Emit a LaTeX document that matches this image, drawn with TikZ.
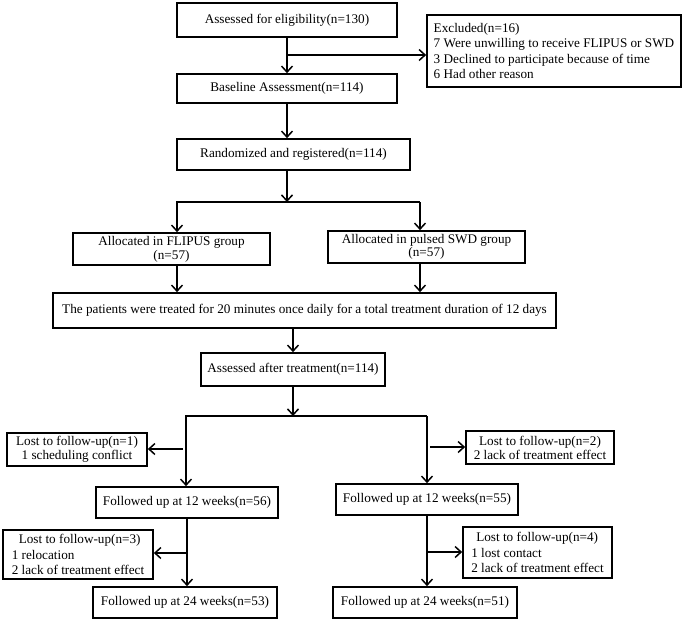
\documentclass[tikz,border=0pt]{standalone}
\usepackage{fontspec}
\setmainfont{Liberation Serif}
\usetikzlibrary{arrows.meta}
\begin{document}
\begin{tikzpicture}[x=1pt,y=-1pt,
  box/.style={draw, line width=1.7pt, inner sep=0pt, align=center,
    font=\fontsize{13.2}{14}\selectfont},
  multi/.style={box, align=left, font=\fontsize{13.2}{15.2}\selectfont},
  arr/.style={line width=1.5pt, -{Straight Barb[length=6pt,width=11pt,line width=1.5pt]}},
  ln/.style={line width=1.5pt}]
\useasboundingbox[fill=white] (0,0) rectangle (685,622);

\node[box, minimum width=220pt, minimum height=34pt] (b1) at (287,20) {Assessed for eligibility(n=130)};
\node[multi, minimum width=254pt, minimum height=72pt] (excl) at (554,51)
  {Excluded(n=16)\\7 Were unwilling to receive FLIPUS or SWD\\3 Declined to participate because of time\\6 Had other reason};
\node[box, minimum width=220pt, minimum height=29pt] (b2) at (287,88.5) {Baseline Assessment(n=114)};
\node[box, minimum width=233pt, minimum height=31pt] (b3) at (293.5,154.5) {Randomized and registered(n=114)};
\node[box, minimum width=197pt, minimum height=32pt] (flip) at (171.5,249) {Allocated in FLIPUS group\\(n=57)};
\node[box, minimum width=197pt, minimum height=32pt, font=\fontsize{13.2}{13}\selectfont] (swd) at (426.5,247) {Allocated in pulsed SWD group\\(n=57)};
\node[box, minimum width=503pt, minimum height=35pt] (treat) at (304.5,310.5)
  {The patients were treated for 20 minutes once daily for a total treatment duration of 12 days};
\node[box, minimum width=184pt, minimum height=33pt] (aft) at (293,369.5) {Assessed after treatment(n=114)};
\node[box, minimum width=140pt, minimum height=33pt] (lost1) at (77,449.5) {Lost to follow-up(n=1)\\1 scheduling conflict};
\node[box, minimum width=148pt, minimum height=33pt] (lost2) at (540,447.5) {Lost to follow-up(n=2)\\2 lack of treatment effect};
\node[box, minimum width=182pt, minimum height=31pt] (f12l) at (187,502.5) {Followed up at 12 weeks(n=56)};
\node[box, minimum width=182pt, minimum height=31pt] (f12r) at (427,499.5) {Followed up at 12 weeks(n=55)};
\node[multi, minimum width=150pt, minimum height=49pt] (lost3) at (78,554.5)
  {\hspace*{7pt}Lost to follow-up(n=3)\\1 relocation\\2 lack of treatment effect};
\node[multi, minimum width=149pt, minimum height=51pt] (lost4) at (537.5,552.5)
  {\hspace*{5pt}Lost to follow-up(n=4)\\1 lost contact\\2 lack of treatment effect};
\node[box, minimum width=184pt, minimum height=31pt] (f24l) at (185,602.5) {Followed up at 24 weeks(n=53)};
\node[box, minimum width=184pt, minimum height=31pt] (f24r) at (425,602.5) {Followed up at 24 weeks(n=51)};

% coordinates
\coordinate (e1) at (287,55);
\coordinate (s1) at (287,202);
\coordinate (s1L) at (177,202);
\coordinate (s1R) at (420,202);
\coordinate (s2) at (293,416);
\coordinate (s2L) at (186,416);
\coordinate (s2R) at (427,416);
\coordinate (c1) at (183,449);
\coordinate (c2) at (430,447);
\coordinate (c3) at (187,553);
\coordinate (c4) at (427,552);

% connectors
\draw[arr] (b1) -- (b2);
\draw[arr] (e1) -- (excl.west |- e1);
\draw[arr] (b2.south) -- (b2.south |- b3.north);
\draw[arr] (b3.south -| s1) -- (s1);
\draw[arr] (s1R) -- (s1L) -- (s1L |- flip.north);
\draw[arr] (s1R) -- (s1R |- swd.north);
\draw[arr] (flip.south -| s1L) -- (s1L |- treat.north);
\draw[arr] (swd.south -| s1R) -- (s1R |- treat.north);
\draw[arr] (aft.north |- treat.south) -- (aft.north);
\draw[arr] (aft.south) -- (s2);
\draw[arr] (s2R) -- (s2L) -- (s2L |- f12l.north);
\draw[arr] (s2R) -- (s2R |- f12r.north);
\draw[arr] (c1) -- (lost1.east |- c1);
\draw[arr] (c2) -- (lost2.west |- c2);
\draw[arr] (f12l.south) -- (f12l.south |- f24l.north);
\draw[arr] (c3) -- (lost3.east |- c3);
\draw[arr] (f12r.south) -- (f12r.south |- f24r.north);
\draw[arr] (c4) -- (lost4.west |- c4);
\end{tikzpicture}
\end{document}
